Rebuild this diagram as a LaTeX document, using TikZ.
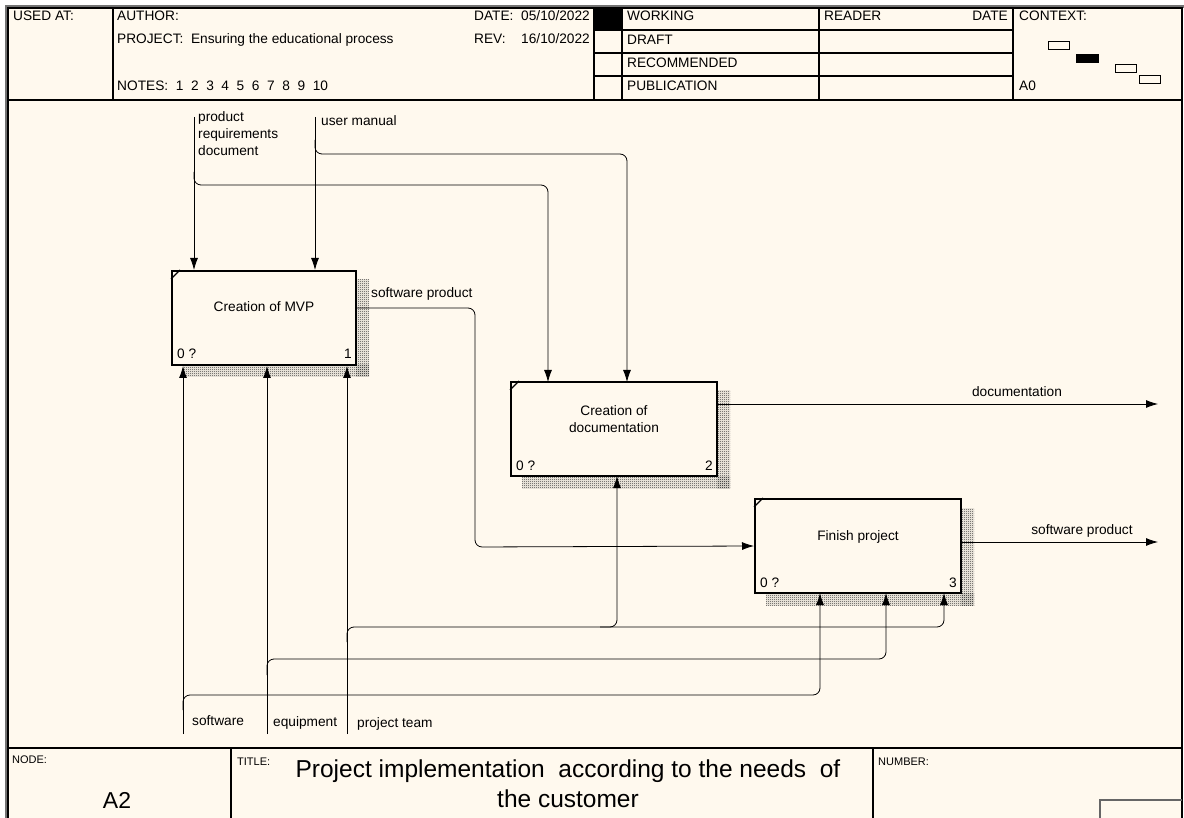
\documentclass[tikz,border=0pt]{standalone}
\usepackage{fontspec}
\setmainfont{Liberation Sans}
\usetikzlibrary{arrows.meta,patterns}
\definecolor{paper}{HTML}{FFF9EE}
% fine checkerboard used for the box shadows
\pgfdeclarepatternformonly{checker}{\pgfpointorigin}{\pgfpoint{2pt}{2pt}}{\pgfpoint{2pt}{2pt}}{%
  \pgfpathrectangle{\pgfpointorigin}{\pgfpoint{1pt}{1pt}}%
  \pgfpathrectangle{\pgfpoint{1pt}{1pt}}{\pgfpoint{1pt}{1pt}}%
  \pgfusepath{fill}}
\begin{document}
\begin{tikzpicture}[x=1pt,y=-1pt,
  txt/.style={inner sep=0pt, font=\fontsize{13.7}{17}\selectfont, text height=10pt, text depth=3pt},
  small/.style={inner sep=0pt, font=\fontsize{11}{13}\selectfont, text height=8pt, text depth=2pt},
  frm/.style={line width=1.2pt, draw=black},
  fn/.style={draw=black, line width=2pt, fill=paper, inner sep=0pt, minimum height=94pt},
  shade/.style={pattern=checker, pattern color=black!80},
  flow/.style={line width=0.8pt, rounded corners=7pt},
  arr/.style={flow, -{Latex[length=12pt,width=8pt]}},
  ctx/.style={draw=black, line width=0.7pt}]

\useasboundingbox (0,0) rectangle (1184,818);
\clip (0,0) rectangle (1184,818);

% sheet
\fill[white] (0,0) rectangle (1184,818);
\fill[paper] (8,8) rectangle (1182,830);
\draw[black!55, line width=2.5pt] (6.5,830) -- (6.5,6.5) -- (1184,6.5);
\draw[frm] (8,830) -- (8,8) -- (1182,8) -- (1182,830);

% header grid
\draw[frm] (8,100) -- (1182,100);
\foreach \x in {113,594,622,819,1013} \draw[frm] (\x,8) -- (\x,100);
\foreach \y in {30,53,76} \draw[frm] (594,\y) -- (1013,\y);
\fill[black] (594,8) rectangle (622,30);

\node[txt, anchor=west] (usedat) at (13,17) {USED AT:};
\node[txt, anchor=west] (author) at (117,17) {AUTHOR:};
\node[txt, anchor=west] (project) at (117,40) {PROJECT:\ \ Ensuring the educational process};
\node[txt, anchor=west] (notes) at (117,87) {NOTES:\ \ 1\ \ 2\ \ 3\ \ 4\ \ 5\ \ 6\ \ 7\ \ 8\ \ 9\ \ 10};
\node[txt, anchor=west] (datek) at (474,17) {DATE:};
\node[txt, anchor=east] (datev) at (590,17) {05/10/2022};
\node[txt, anchor=west] (revk) at (474,40) {REV:};
\node[txt, anchor=east] (revv) at (590,40) {16/10/2022};
\node[txt, anchor=west] (working) at (627,17) {WORKING};
\node[txt, anchor=west] (draft) at (627,41) {DRAFT};
\node[txt, anchor=west] (recomm) at (627,64) {RECOMMENDED};
\node[txt, anchor=west] (publ) at (627,87) {PUBLICATION};
\node[txt, anchor=west] (reader) at (824,17) {READER};
\node[txt, anchor=east] (rdate) at (1008,17) {DATE};
\node[txt, anchor=west] (context) at (1019,17) {CONTEXT:};
\node[txt, anchor=west] (ctxnode) at (1019,87) {A0};

% context thumbnail
\draw[ctx, fill=paper] (1048,41) rectangle (1069,49);
\draw[ctx, fill=black] (1076,54) rectangle (1098,62);
\draw[ctx, fill=paper] (1115,64) rectangle (1136,72);
\draw[ctx, fill=paper] (1139,75) rectangle (1160,83);

% footer grid
\draw[frm] (8,748) -- (1182,748);
\draw[frm] (231,748) -- (231,830);
\draw[frm] (873,748) -- (873,830);
\draw[black!60, line width=1.2pt] (1100,830) -- (1100,800) -- (1182,800);

\node[small, anchor=west] (nodek) at (12,760) {NODE:};
\node[inner sep=0pt, font=\fontsize{23}{26}\selectfont] (nodev) at (117,800) {A2};
\node[small, anchor=west] (titlek) at (237,762) {TITLE:};
\node[inner sep=0pt, align=center, font=\fontsize{24.5}{30}\selectfont, anchor=north] (title) at (568,760)
  {Project implementation\ \ according to the needs\ \ of\\the customer};
\node[small, anchor=west] (numberk) at (878,762) {NUMBER:};

% function boxes: shadows first
\foreach \l/\t/\r/\b in {172/271/356/365, 511/382/717/476, 755/499/961/593}{
  \fill[shade] (\r,\t+9) rectangle (\r+13,\b+12);
  \fill[shade] (\l+11,\b) rectangle (\r+13,\b+12);
}
\node[fn, minimum width=184pt] (b1) at (264,318) {};
\node[fn, minimum width=206pt] (b2) at (614,429) {};
\node[fn, minimum width=206pt] (b3) at (858,546) {};

\foreach \b/\n in {b1/1,b2/2,b3/3}{
  \draw[line width=1.3pt] ([yshift=-9pt]\b.north west) -- ([xshift=9pt]\b.north west);
  \node[txt, anchor=base west] (\b-ref) at ([xshift=6pt,yshift=7pt]\b.south west) {0 ?};
  \node[txt, anchor=base east] (\b-num) at ([xshift=-5pt,yshift=7pt]\b.south east) {\n};
}
\node[txt] (b1-name) at ([yshift=10pt]b1.center) {Creation of MVP};
\node[inner sep=0pt, align=center, font=\fontsize{13.7}{17}\selectfont] (b2-name) at ([yshift=10pt]b2.center) {Creation of\\documentation};
\node[txt] (b3-name) at ([yshift=9pt]b3.center) {Finish project};

% controls
\coordinate (prd) at (194,117);
\coordinate (um) at (315,117);
\draw[arr] (prd) -- (prd |- b1.north);
\draw[arr] (194,172) -- (194,185) -- (548,185) -- (548,382);
\draw[arr] (um) -- (um |- b1.north);
\draw[arr] (315,140) -- (315,154) -- (627,154) -- (627,382);
\node[inner sep=0pt, align=left, anchor=north west, font=\fontsize{13.7}{17}\selectfont] (prd-lbl) at (198,111)
  {product\\requirements\\document};
\node[txt, anchor=west] (um-lbl) at (321,122) {user manual};

% outputs
\draw[arr] ([yshift=10pt]b1.east) -- (475,308) -- (475,547) -- (b3.west);
\node[txt, anchor=west] (sp1-lbl) at (371,294) {software product};
\coordinate (docend) at (1158,404);
\draw[arr] (b2.east |- docend) -- (docend);
\node[txt] (doc-lbl) at (1017,393) {documentation};
\coordinate (spend) at (1158,542);
\draw[arr] (b3.east |- spend) -- (spend);
\node[txt] (sp2-lbl) at (1082,531) {software product};

% mechanisms
\coordinate (sw) at (183,734);
\coordinate (eq) at (267,734);
\coordinate (pt) at (347,734);
\draw[arr] (sw) -- (sw |- b1.south);
\draw[arr] (eq) -- (eq |- b1.south);
\draw[arr] (pt) -- (pt |- b1.south);
\draw[arr] (183,710) -- (183,695) -- (820,695) -- (820,593);
\draw[arr] (267,675) -- (267,659) -- (886,659) -- (886,593);
\draw[arr] (347,642) -- (347,627) -- (944,627) -- (944,593);
\draw[arr] (600,627) -- (617,627) -- (617,476);
\node[txt, anchor=west] (sw-lbl) at (192,722) {software};
\node[txt, anchor=west] (eq-lbl) at (273,723) {equipment};
\node[txt, anchor=west] (pt-lbl) at (357,724) {project team};
\end{tikzpicture}
\end{document}
